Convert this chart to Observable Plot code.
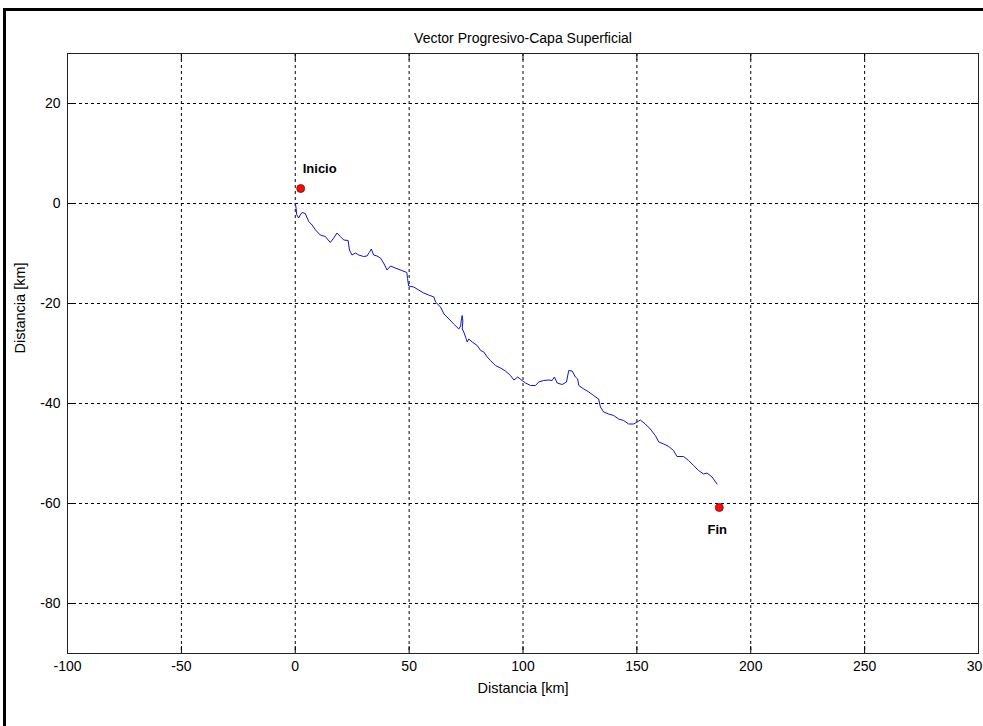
<!DOCTYPE html>
<html>
<head>
<meta charset="utf-8">
<script src="https://cdn.jsdelivr.net/npm/d3@7"></script>
<script src="https://cdn.jsdelivr.net/npm/@observablehq/plot@0.6"></script>
<style>
  html, body { margin: 0; padding: 0; background: #fff; overflow: hidden; width: 983px; height: 726px; }
  #wrap { position: relative; width: 983px; height: 726px; overflow: hidden; }
  #wrap svg { position: absolute; left: 0; top: 0; }
  #border { position: absolute; left: 3px; top: 8px; width: 1200px; height: 900px;
            border-left: 3px solid #000; border-top: 3px solid #000; z-index: 2; pointer-events: none; }
</style>
</head>
<body>
<div id="wrap"><div id="border"></div></div>
<script>
// ---- Data ----
const titleText = "Vector Progresivo-Capa Superficial";
const xLabel = "Distancia [km]";
const yLabel = "Distancia [km]";
const xTicks = [-100, -50, 0, 50, 100, 150, 200, 250, 300];
const yTicks = [-80, -60, -40, -20, 0, 20];

// progressive vector path (km east, km north)
const pathX = [0, 0.4, 0.6, 1.5, 2.2, 3.0, 4.4, 5.9, 7.4, 8.9, 11.0, 13.2, 15.4, 16.9, 18.3, 19.8, 21.3, 23.2, 23.8, 24.9,
  26.4, 27.9, 30.0, 31.5, 32.5, 33.4, 34.4, 35.9, 37.4, 38.8, 40.3, 41.8, 43.9, 46.8, 49.0, 49.3, 49.8, 52.0, 54.2, 56.4,
  58.6, 60.9, 61.6, 63.8, 65.3, 67.5, 69.6, 71.8, 72.6, 73.0, 73.3, 73.6, 73.3, 74.0, 75.0, 75.5, 76.2, 77.7, 79.9, 81.4,
  82.8, 84.3, 85.7, 87.9, 90.1, 92.3, 94.5, 96.0, 97.7, 99.6, 101.1, 103.3, 105.5, 106.9, 109.1, 111.3, 112.8, 113.8, 115.0, 117.2,
  119.1, 119.6, 120.1, 121.6, 123.0, 124.0, 124.5, 126.7, 128.9, 131.0, 133.2, 134.0, 135.4, 137.6, 139.8, 142.0, 144.2, 146.4, 148.6, 150.1,
  151.5, 153.7, 155.9, 158.1, 159.6, 161.8, 164.0, 166.1, 167.6, 170.5, 172.7, 174.9, 177.1, 179.3, 180.8, 183.0, 185.2];
const pathY = [0, -1.0, -2.2, -2.9, -2.3, -1.8, -2.0, -3.6, -4.3, -5.3, -6.3, -6.6, -7.8, -6.9, -5.9, -6.6, -7.3, -7.4, -9.3, -10.3,
  -9.9, -10.3, -10.6, -10.5, -9.8, -9.1, -10.3, -10.5, -10.9, -11.9, -13.3, -12.5, -12.9, -13.4, -13.8, -15.0, -16.5, -16.7, -17.3, -17.9,
  -18.3, -18.7, -19.7, -20.7, -22.1, -23.1, -24.1, -25.1, -24.5, -23.0, -22.4, -23.5, -25.1, -25.7, -27.0, -27.7, -27.1, -27.7, -28.4, -29.4,
  -29.7, -30.7, -31.4, -32.4, -32.9, -33.5, -34.4, -35.3, -34.7, -35.4, -35.9, -36.4, -36.4, -35.7, -35.4, -35.3, -35.4, -34.7, -35.9, -36.2,
  -35.7, -34.5, -33.4, -33.5, -34.7, -35.1, -36.4, -37.1, -37.7, -38.4, -39.1, -40.7, -41.7, -42.1, -42.4, -43.1, -43.4, -44.1, -44.1, -43.7,
  -43.3, -44.1, -45.1, -46.4, -47.7, -48.1, -48.6, -49.4, -50.6, -50.6, -51.4, -52.4, -53.4, -54.1, -53.9, -54.7, -56.1];

// start / end markers
const markerNames = ["Inicio", "Fin"];
const markerX = [2.4, 186.2];
const markerY = [3.0, -60.8];

// ---- Build ----
const FONT = "'Liberation Sans', Arial, sans-serif";
const W = 983, H = 726, ML = 67, MR = 5, MT = 53, MB = 73;
const plotW = W - ML - MR, plotH = H - MT - MB;
const TICK = 7;
const fmt = d => String(d);
const n = pathX.length;

const chart = Plot.plot({
  width: W, height: H,
  marginLeft: ML, marginRight: MR, marginTop: MT, marginBottom: MB,
  style: { fontFamily: FONT, fontSize: "14px", background: "#fff", color: "#000" },
  x: { domain: [-100, 300] },
  y: { domain: [-90, 30] },
  marks: [
    Plot.gridX(xTicks, { stroke: "#000", strokeOpacity: 1, strokeWidth: 1, strokeDasharray: "3,3" }),
    Plot.gridY(yTicks, { stroke: "#000", strokeOpacity: 1, strokeWidth: 1, strokeDasharray: "3,3" }),
    // inward box ticks (MATLAB style)
    Plot.tickX(xTicks, { x: d => d, insetTop: plotH - TICK, stroke: "#000" }),
    Plot.tickX(xTicks, { x: d => d, insetBottom: plotH - TICK, stroke: "#000" }),
    Plot.tickY(yTicks, { y: d => d, insetRight: plotW - TICK, stroke: "#000" }),
    Plot.tickY(yTicks, { y: d => d, insetLeft: plotW - TICK, stroke: "#000" }),
    Plot.frame({ stroke: "#222", strokeWidth: 1 }),
    Plot.axisX({ ticks: xTicks, tickFormat: fmt, tickSize: 0, tickPadding: 8, label: null, fontSize: 14 }),
    Plot.axisY({ ticks: yTicks, tickFormat: fmt, tickSize: 0, tickPadding: 7, label: null, fontSize: 14 }),
    Plot.line({ length: n }, { x: pathX, y: pathY, stroke: "#1212c8", strokeWidth: 1 }),
    Plot.dot({ length: 2 }, { x: markerX, y: markerY, r: 4, fill: "#e81010", stroke: "#900", strokeWidth: 0.8 }),
    Plot.text([0], { x: [markerX[0]], y: [markerY[0]], text: [markerNames[0]], textAnchor: "start",
      dx: 2, dy: -20, lineAnchor: "middle", fontWeight: "bold", fontSize: 13 }),
    Plot.text([0], { x: [markerX[1]], y: [markerY[1]], text: [markerNames[1]], textAnchor: "middle",
      dx: -2, dy: 22, lineAnchor: "middle", fontWeight: "bold", fontSize: 13 }),
    // title and axis labels
    Plot.text([titleText], { text: d => d, frameAnchor: "top", dy: -15, lineAnchor: "middle", fontSize: 14 }),
    Plot.text([xLabel], { text: d => d, frameAnchor: "bottom", dy: 35, lineAnchor: "middle", fontSize: 14.5 }),
    Plot.text([yLabel], { text: d => d, frameAnchor: "left", dx: -47, rotate: -90, lineAnchor: "middle", fontSize: 14.5 })
  ]
});
document.getElementById("wrap").insertBefore(chart, document.getElementById("border"));
</script>
</body>
</html>
